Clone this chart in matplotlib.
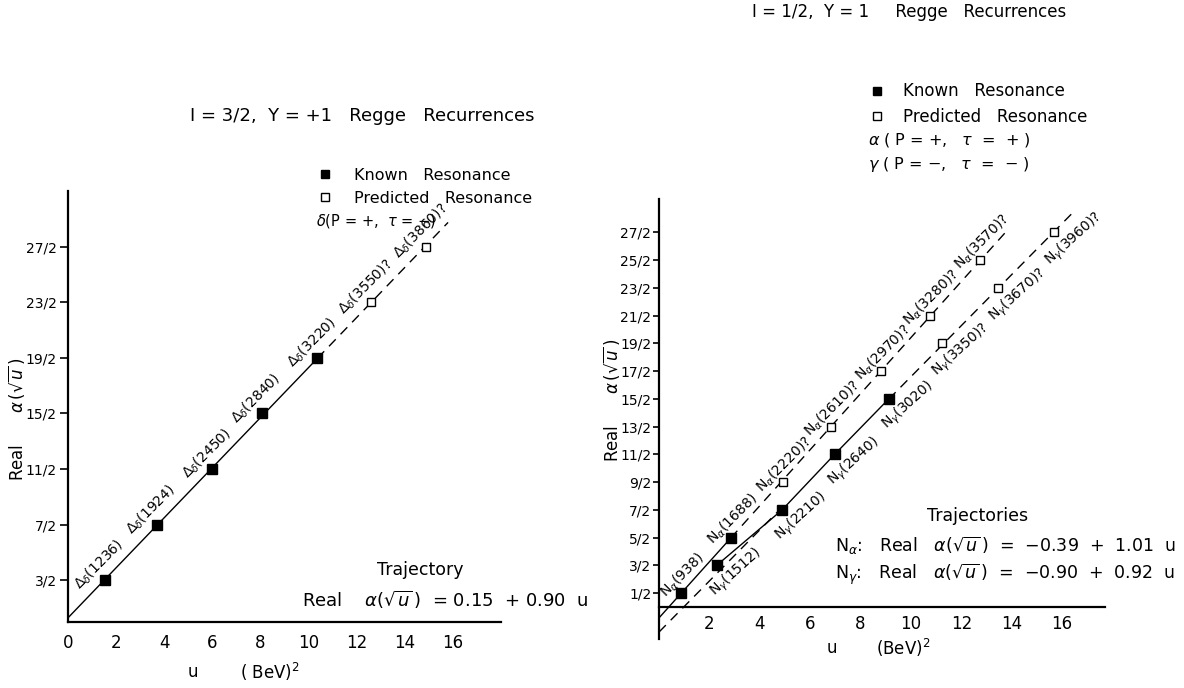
import matplotlib
matplotlib.use("Agg")
import numpy as np
import matplotlib.pyplot as plt
from matplotlib.lines import Line2D

# ---- I = 3/2, Y = +1 : Delta_delta trajectory ----
delta_mass = [1236, 1924, 2450, 2840, 3220, 3550, 3860]      # MeV
delta_spin = [1.5, 3.5, 5.5, 7.5, 9.5, 11.5, 13.5]
delta_known = [True, True, True, True, True, False, False]
delta_fit = (0.15, 0.90)                                      # Re alpha = a + b u
delta_solid_span = (0.0, 10.37)
delta_dash_span = (10.37, 15.8)

# ---- I = 1/2, Y = 1 : N_alpha and N_gamma trajectories ----
alpha_mass = [938, 1688, 2220, 2610, 2970, 3280, 3570]
alpha_spin = [0.5, 2.5, 4.5, 6.5, 8.5, 10.5, 12.5]
alpha_known = [True, True, False, False, False, False, False]
alpha_fit = (-0.39, 1.01)
alpha_solid_span = (0.0, 2.85)
alpha_dash_span = (2.85, 13.9)

gamma_mass = [1512, 2210, 2640, 3020, 3350, 3670, 3960]
gamma_spin = [1.5, 3.5, 5.5, 7.5, 9.5, 11.5, 13.5]
gamma_known = [True, True, True, True, False, False, False]
gamma_fit = (-0.90, 0.92)
gamma_dash_low_span = (0.0, 4.9)
gamma_dash_high_span = (9.12, 16.5)

left_yticks = [1.5, 3.5, 5.5, 7.5, 9.5, 11.5, 13.5]
left_yticklabels = ["3/2", "7/2", "11/2", "15/2", "19/2", "23/2", "27/2"]
right_yticks = [0.5, 1.5, 2.5, 3.5, 4.5, 5.5, 6.5, 7.5, 8.5, 9.5, 10.5, 11.5, 12.5, 13.5]
right_yticklabels = ["1/2", "3/2", "5/2", "7/2", "9/2", "11/2", "13/2", "15/2",
                     "17/2", "19/2", "21/2", "23/2", "25/2", "27/2"]
left_xticks = [0, 2, 4, 6, 8, 10, 12, 14, 16]
right_xticks = [2, 4, 6, 8, 10, 12, 14, 16]

plt.rcParams["font.family"] = ["DejaVu Sans"]
plt.rcParams["mathtext.fontset"] = "dejavusans"

W, H = 1184, 688
fig = plt.figure(figsize=(W / 100, H / 100), dpi=100)


def px_box(x0, y_top, x1, y_bot):
    return [x0 / W, 1 - y_bot / H, (x1 - x0) / W, (y_bot - y_top) / H]


def fx(x):
    return x / W


def fy(y):
    return 1 - y / H


def u_of(mass):
    return (np.asarray(mass, float) / 1000.0) ** 2


def fit_line(ax, fit, span, ls):
    u = np.array(span)
    kw = dict(dashes=(7, 5)) if ls == "--" else {}
    ax.plot(u, fit[0] + fit[1] * u, color="black", lw=1.0, ls=ls, zorder=2, **kw)


def draw_points(ax, mass, spin, known):
    u = u_of(mass)
    s = np.asarray(spin)
    k = np.asarray(known)
    ax.plot(u[k], s[k], "s", ms=6.5, mfc="black", mec="black", zorder=4)
    ax.plot(u[~k], s[~k], "s", ms=6, mfc="white", mec="black", mew=1.0, zorder=4)


def label_points(ax, mass, spin, known, name, offset, rot):
    for m, s, k in zip(mass, spin, known):
        txt = f"{name}({m})" + ("" if k else "?")
        ax.annotate(txt, (u_of(m), s), xytext=offset, textcoords="offset points",
                    rotation=rot, rotation_mode="anchor", ha="center", va="center",
                    fontsize=10, zorder=5)


def style_axes(ax):
    for side in ("top", "right"):
        ax.spines[side].set_visible(False)
    for side in ("left", "bottom"):
        ax.spines[side].set_linewidth(1.6)
    ax.tick_params(axis="x", length=0, labelsize=12)
    ax.tick_params(axis="y", width=1.2, labelsize=10)
    ax.patch.set_alpha(0)


def legend_handles():
    return [Line2D([], [], ls="none", marker="s", ms=6, mfc="black", mec="black"),
            Line2D([], [], ls="none", marker="s", ms=6, mfc="white", mec="black")]


# ---------------- left panel ----------------
axL = fig.add_axes(px_box(68, 191, 501, 622))
axL.set_xlim(0, 18)
axL.set_ylim(0, 15.5)
style_axes(axL)
axL.tick_params(axis="x", pad=9)
axL.tick_params(axis="y", pad=2, length=6)
axL.set_xticks(left_xticks)
axL.set_yticks(left_yticks, left_yticklabels)
fit_line(axL, delta_fit, delta_solid_span, "-")
fit_line(axL, delta_fit, delta_dash_span, "--")
draw_points(axL, delta_mass, delta_spin, delta_known)
label_points(axL, delta_mass, delta_spin, delta_known, r"$\Delta_\delta$", (-4, 11), 45)

fig.text(fx(362), fy(116), "I = 3/2,  Y = +1   Regge   Recurrences",
         ha="center", va="center", fontsize=13)
axL.legend(handles=legend_handles(),
           labels=["Known   Resonance", "Predicted   Resonance"],
           loc="upper left", bbox_to_anchor=(fx(309), fy(160)),
           bbox_transform=fig.transFigure, frameon=False, fontsize=11.5,
           handlelength=1.0, handletextpad=1.3, labelspacing=0.5, borderpad=0)
fig.text(fx(316), fy(221), r"$\delta$(P = +,  $\tau$ = $-$)",
         ha="left", va="center", fontsize=10.5)
fig.text(fx(420), fy(570), "Trajectory", ha="center", va="center", fontsize=12.5)
fig.text(fx(302), fy(600), r"Real    $\alpha(\sqrt{u}\,)$  = 0.15  + 0.90  u",
         ha="left", va="center", fontsize=13)
fig.text(fx(17), fy(419), r"Real      $\alpha\,(\sqrt{u}\,)$", rotation=90,
         ha="center", va="center", fontsize=12)
fig.text(fx(193), fy(672), "u", ha="center", va="center", fontsize=12)
fig.text(fx(270), fy(672), "( BeV)$^2$", ha="center", va="center", fontsize=12)

# ---------------- right panel ----------------
axR = fig.add_axes(px_box(659, 199, 1105, 639))
axR.set_xlim(0, 17.7)
axR.set_ylim(-1.15, 14.7)
style_axes(axR)
axR.spines["bottom"].set_position(("data", 0))
axR.tick_params(axis="x", pad=6)
axR.tick_params(axis="y", pad=1.5, length=4)
axR.set_xticks(right_xticks)
axR.set_yticks(right_yticks, right_yticklabels)

fit_line(axR, alpha_fit, alpha_solid_span, "-")
fit_line(axR, alpha_fit, alpha_dash_span, "--")
fit_line(axR, gamma_fit, gamma_dash_low_span, "--")
fit_line(axR, gamma_fit, gamma_dash_high_span, "--")
gk = np.asarray(gamma_known)
axR.plot(u_of(gamma_mass)[gk], np.asarray(gamma_spin)[gk], color="black", lw=1.0, zorder=2)
draw_points(axR, alpha_mass, alpha_spin, alpha_known)
draw_points(axR, gamma_mass, gamma_spin, gamma_known)
label_points(axR, alpha_mass, alpha_spin, alpha_known, r"N$_\alpha$", (1, 13), 45)
label_points(axR, gamma_mass, gamma_spin, gamma_known, r"N$_\gamma$", (14, -5), 42)

fig.text(fx(909), fy(12), "I = 1/2,  Y = 1     Regge   Recurrences",
         ha="center", va="center", fontsize=12)
axR.legend(handles=legend_handles(),
           labels=["Known   Resonance", "Predicted   Resonance"],
           loc="upper left", bbox_to_anchor=(fx(860), fy(74)),
           bbox_transform=fig.transFigure, frameon=False, fontsize=12,
           handlelength=1.0, handletextpad=1.1, labelspacing=0.45, borderpad=0)
fig.text(fx(868), fy(140), r"$\alpha$ ( P = +,   $\tau$  =  + )",
         ha="left", va="center", fontsize=11.5)
fig.text(fx(868), fy(165), r"$\gamma$ ( P = $-$,   $\tau$  =  $-$ )",
         ha="left", va="center", fontsize=11.5)
fig.text(fx(978), fy(516), "Trajectories", ha="center", va="center", fontsize=12.5)
fig.text(fx(835), fy(546), r"N$_\alpha$:   Real   $\alpha(\sqrt{u}\,)$  =  $-$0.39  +  1.01  u",
         ha="left", va="center", fontsize=12.5)
fig.text(fx(835), fy(574), r"N$_\gamma$:   Real   $\alpha(\sqrt{u}\,)$  =  $-$0.90  +  0.92  u",
         ha="left", va="center", fontsize=12.5)
fig.text(fx(611), fy(400), r"Real      $\alpha\,(\sqrt{u}\,)$", rotation=90,
         ha="center", va="center", fontsize=12)
fig.text(fx(832), fy(648), "u", ha="center", va="center", fontsize=12)
fig.text(fx(903), fy(648), "(BeV)$^2$", ha="center", va="center", fontsize=12)

fig.savefig("out.png", dpi=100)
